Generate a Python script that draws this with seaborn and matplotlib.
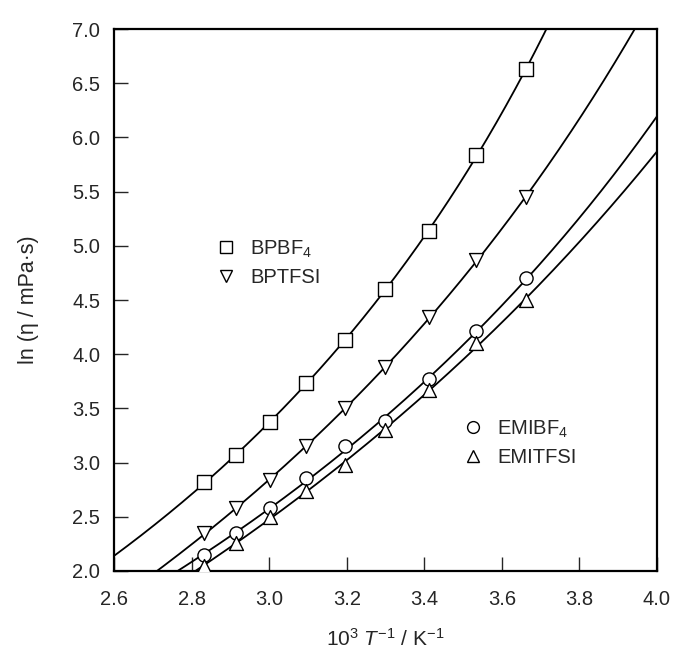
import numpy as np
import pandas as pd
import matplotlib
matplotlib.use("Agg")
import matplotlib.pyplot as plt
from matplotlib.lines import Line2D
import seaborn as sns

# Inverse temperature, 10^3 T^-1 / K^-1 (353 K down to 273 K in 10 K steps)
inv_T = [2.833, 2.915, 3.003, 3.096, 3.195, 3.300, 3.413, 3.534, 3.663]

# ln(viscosity / mPa s) for each ionic liquid
ln_eta_BPBF4 = [2.82, 3.07, 3.37, 3.73, 4.13, 4.60, 5.14, 5.84, 6.63]
ln_eta_BPTFSI = [2.35, 2.58, 2.84, 3.15, 3.50, 3.88, 4.34, 4.87, 5.45]
ln_eta_EMIBF4 = [2.15, 2.35, 2.58, 2.86, 3.15, 3.38, 3.77, 4.21, 4.70]
ln_eta_EMITFSI = [2.05, 2.26, 2.50, 2.74, 2.98, 3.30, 3.67, 4.10, 4.50]

series_names = ["BPBF$_4$", "BPTFSI", "EMIBF$_4$", "EMITFSI"]
series_values = [ln_eta_BPBF4, ln_eta_BPTFSI, ln_eta_EMIBF4, ln_eta_EMITFSI]
series_markers = ["s", "v", "o", "^"]
marker_sizes = [110, 100, 90, 100]

x_ticks = [2.6, 2.8, 3.0, 3.2, 3.4, 3.6, 3.8, 4.0]
y_ticks = [2.0, 2.5, 3.0, 3.5, 4.0, 4.5, 5.0, 5.5, 6.0, 6.5, 7.0]


def vtf_fit(x, y):
    """Fit ln(eta) = A + B / (T - T0) by scanning T0 and solving A, B linearly."""
    T = 1000.0 / np.asarray(x)
    y = np.asarray(y)
    best = None
    for T0 in np.arange(20.0, 245.0, 0.25):
        X = np.column_stack([np.ones_like(T), 1.0 / (T - T0)])
        coef, *_ = np.linalg.lstsq(X, y, rcond=None)
        res = np.sum((X @ coef - y) ** 2)
        if best is None or res < best[0]:
            best = (res, T0, coef)
    _, T0, (A, B) = best
    return lambda xx: A + B / (1000.0 / xx - T0)


sns.set_style("ticks")
plt.rcParams["font.family"] = ["Liberation Sans", "DejaVu Sans"]
plt.rcParams["mathtext.fontset"] = "custom"
plt.rcParams["mathtext.rm"] = "Liberation Sans"
plt.rcParams["mathtext.it"] = "Liberation Sans:italic"

fig = plt.figure(figsize=(6.73, 6.49), dpi=100)
ax = fig.add_axes([0.1694, 0.1202, 0.8068, 0.8351])

x_fine = np.linspace(2.6, 4.0, 400)
for name, vals, mk, ms in zip(series_names, series_values, series_markers, marker_sizes):
    f = vtf_fit(inv_T, vals)
    y_fine = f(x_fine)
    keep = y_fine < 7.6
    curve = pd.DataFrame({"x": x_fine[keep], "y": y_fine[keep]})
    sns.lineplot(data=curve, x="x", y="y", ax=ax, color="black", lw=1.3,
                 sort=False, zorder=2)
    pts = pd.DataFrame({"x": inv_T, "y": vals})
    sns.scatterplot(data=pts, x="x", y="y", ax=ax, marker=mk, s=ms,
                    facecolor="white", edgecolor="black", linewidth=1.0,
                    zorder=3)

ax.set_xlim(2.6, 4.0)
ax.set_ylim(2.0, 7.0)
ax.set_xticks(x_ticks)
ax.set_yticks(y_ticks)
ax.set_xticklabels([f"{v:.1f}" for v in x_ticks])
ax.set_yticklabels([f"{v:.1f}" for v in y_ticks])
ax.tick_params(direction="in", length=10, width=1.0, labelsize=14.5,
               top=False, right=False)
ax.tick_params(axis="x", pad=14)
ax.tick_params(axis="y", pad=10)
for sp in ax.spines.values():
    sp.set_linewidth(1.6)
    sp.set_color("black")

ax.set_xlabel(r"10$^3$ $T^{-1}$ / K$^{-1}$", fontsize=15, labelpad=13)
ax.set_ylabel("ln (η / mPa·s)", fontsize=15.5, labelpad=24)


def handle(mk):
    return Line2D([], [], marker=mk, ls="none", markersize=8.5,
                  markerfacecolor="white", markeredgecolor="black",
                  markeredgewidth=1.0)


leg_kw = dict(loc="center left", frameon=False, fontsize=14.5,
              handlelength=1.0, handletextpad=0.7, labelspacing=0.4,
              borderpad=0, borderaxespad=0)
leg1 = ax.legend(handles=[handle("s"), handle("v")], labels=series_names[:2],
                 bbox_to_anchor=(0.188, 0.569), **leg_kw)
ax.add_artist(leg1)
ax.legend(handles=[handle("o"), handle("^")], labels=series_names[2:],
          bbox_to_anchor=(0.643, 0.237), **leg_kw)

fig.savefig("out.png", dpi=100)
